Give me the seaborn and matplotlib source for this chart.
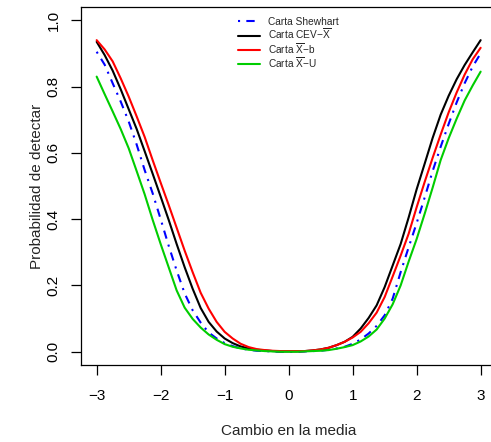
import numpy as np
import pandas as pd
import matplotlib
matplotlib.use("Agg")
import matplotlib.pyplot as plt
import seaborn as sns

# ---- data ----
shift = [-3.0, -2.875, -2.75, -2.625, -2.5, -2.375, -2.25, -2.125, -2.0, -1.875,
         -1.75, -1.625, -1.5, -1.375, -1.25, -1.125, -1.0, -0.875, -0.75, -0.625,
         -0.5, -0.375, -0.25, -0.125, 0.0, 0.125, 0.25, 0.375, 0.5, 0.625,
         0.75, 0.875, 1.0, 1.125, 1.25, 1.375, 1.5, 1.625, 1.75, 1.875,
         2.0, 2.125, 2.25, 2.375, 2.5, 2.625, 2.75, 2.875, 3.0]

p_shewhart = [0.905, 0.866, 0.81, 0.755, 0.695, 0.625, 0.548, 0.478, 0.40, 0.32,
              0.245, 0.176, 0.125, 0.088, 0.058, 0.040, 0.026, 0.017, 0.010, 0.006,
              0.003, 0.002, 0.001, 0.0, 0.0, 0.0, 0.001, 0.002, 0.003, 0.006,
              0.010, 0.015, 0.024, 0.037, 0.055, 0.078, 0.11, 0.16, 0.24, 0.315,
              0.388, 0.465, 0.545, 0.618, 0.687, 0.752, 0.81, 0.86, 0.90]
p_cev = [0.935, 0.895, 0.848, 0.792, 0.732, 0.672, 0.605, 0.537, 0.468, 0.398,
         0.325, 0.255, 0.19, 0.132, 0.09, 0.061, 0.040, 0.026, 0.016, 0.010,
         0.006, 0.004, 0.002, 0.001, 0.001, 0.001, 0.002, 0.004, 0.007, 0.012,
         0.020, 0.030, 0.045, 0.070, 0.102, 0.14, 0.195, 0.26, 0.325, 0.405,
         0.49, 0.567, 0.645, 0.715, 0.772, 0.822, 0.865, 0.903, 0.94]
p_xb = [0.94, 0.912, 0.876, 0.825, 0.77, 0.71, 0.648, 0.578, 0.51, 0.443,
        0.374, 0.305, 0.24, 0.178, 0.13, 0.09, 0.06, 0.040, 0.024, 0.014,
        0.008, 0.005, 0.003, 0.002, 0.002, 0.002, 0.002, 0.004, 0.007, 0.012,
        0.020, 0.030, 0.043, 0.060, 0.086, 0.118, 0.165, 0.227, 0.29, 0.356,
        0.436, 0.512, 0.585, 0.655, 0.722, 0.782, 0.836, 0.882, 0.917]
p_xu = [0.83, 0.777, 0.725, 0.672, 0.614, 0.545, 0.475, 0.398, 0.325, 0.255,
        0.185, 0.133, 0.099, 0.073, 0.052, 0.036, 0.023, 0.015, 0.010, 0.006,
        0.004, 0.002, 0.001, 0.0, 0.0, 0.0, 0.001, 0.002, 0.003, 0.005,
        0.009, 0.014, 0.020, 0.031, 0.046, 0.067, 0.100, 0.143, 0.20, 0.272,
        0.34, 0.416, 0.495, 0.578, 0.644, 0.703, 0.758, 0.803, 0.845]

labels = ["Carta Shewhart",
          r"Carta CEV$-\overline{\mathrm{X}}$",
          r"Carta $\overline{\mathrm{X}}$$-$b",
          r"Carta $\overline{\mathrm{X}}$$-$U"]
x_ticks = [-3, -2, -1, 0, 1, 2, 3]
y_ticks = [0.0, 0.2, 0.4, 0.6, 0.8, 1.0]

# ---- style ----
sns.set_style("white")
plt.rcParams["font.family"] = ["Liberation Sans", "DejaVu Sans"]
plt.rcParams["mathtext.fontset"] = "custom"
plt.rcParams["mathtext.rm"] = "Liberation Sans"
plt.rcParams["mathtext.it"] = "Liberation Sans:italic"
plt.rcParams["mathtext.bf"] = "Liberation Sans:bold"

fig = plt.figure(figsize=(4.91, 4.42), dpi=100)
W, H = 491, 442
left, right, top, bottom = 81.3, 496.0, 7.0, 365.0
ax = fig.add_axes([left / W, 1 - bottom / H, (right - left) / W, (bottom - top) / H])

series = [p_shewhart, p_cev, p_xb, p_xu]
colors = ["#0000FF", "#000000", "#FF0000", "#00CD00"]
styles = [(0, (1, 3, 4, 3)), "-", "-", "-"]

for vals, col, ls, lab in zip(series, colors, styles, labels):
    df = pd.DataFrame({"shift": shift, "p": vals})
    sns.lineplot(data=df, x="shift", y="p", ax=ax, color=col, linestyle=ls,
                 lw=1.5, estimator=None, sort=False, label=lab)

ax.set_xlim(-3.24, 3.24)
ax.set_ylim(-0.04, 1.04)
ax.set_xticks(x_ticks)
ax.set_xticklabels(["\u22123", "\u22122", "\u22121", "0", "1", "2", "3"])
ax.set_yticks(y_ticks)
ax.set_yticklabels(["0.0", "0.2", "0.4", "0.6", "0.8", "1.0"], rotation=90, va="center")

for s in ax.spines.values():
    s.set_visible(True)
    s.set_color("black")
    s.set_linewidth(0.9)

ax.tick_params(axis="both", which="both", direction="out", length=7, width=0.9,
               colors="black", labelsize=11, bottom=True, left=True, top=False, right=False)
ax.tick_params(axis="x", pad=10)
ax.tick_params(axis="y", pad=8)

ax.set_xlabel("Cambio en la media", fontsize=11)
ax.set_ylabel("Probabilidad de detectar", fontsize=11)
ax.xaxis.set_label_coords(0.5, -0.184)
ax.xaxis.label.set_va("center")
ax.yaxis.set_label_coords(-0.107, 0.5)
ax.yaxis.label.set_va("center")

leg = ax.legend(loc="upper left", bbox_to_anchor=(0.378, 0.972), frameon=False,
                fontsize=7.3, handlelength=2.15, handletextpad=0.8, labelspacing=-0.04,
                borderpad=0, borderaxespad=0)

fig.savefig("out.png", dpi=100, facecolor="white")
